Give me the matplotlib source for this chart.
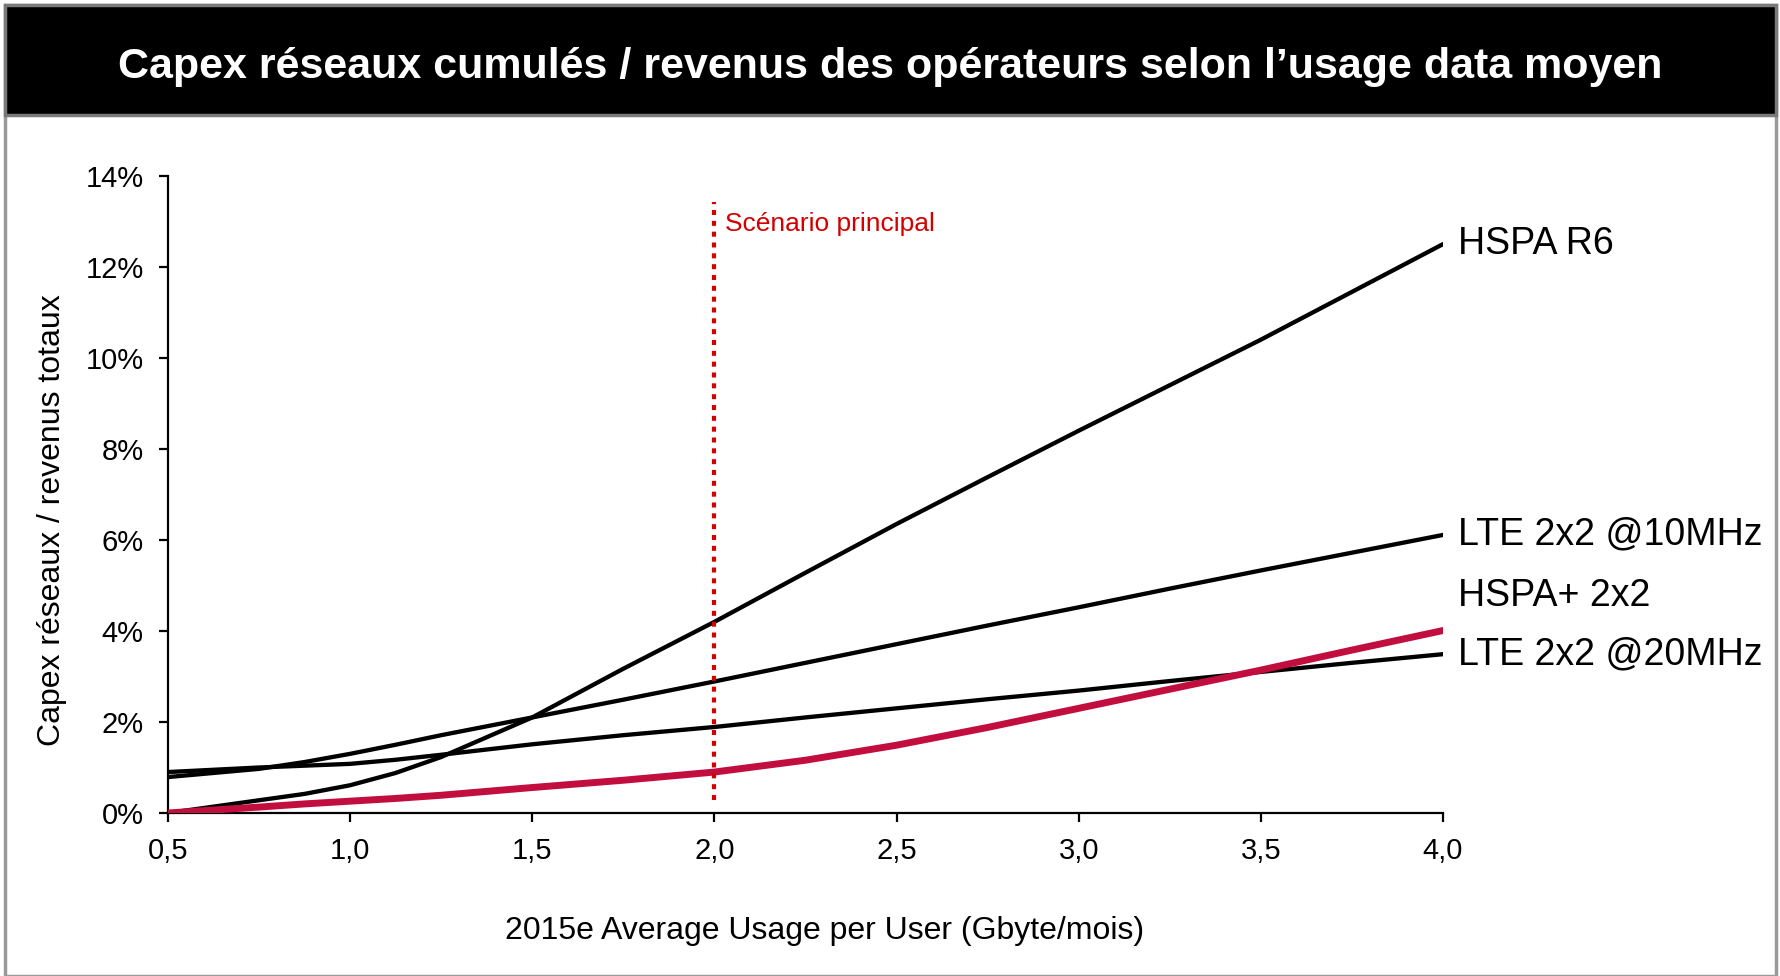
import matplotlib.pyplot as plt
from matplotlib.patches import Rectangle
from matplotlib.ticker import FixedLocator, FuncFormatter

plt.rcParams['font.family'] = ['Liberation Sans', 'DejaVu Sans']

# usage per user (Gbyte/mois) and capex / revenus (%)
usage = [0.5, 0.75, 0.875, 1.0, 1.125, 1.25, 1.5, 1.75, 2.0, 2.25, 2.5, 2.75, 3.0, 3.25, 3.5, 3.75, 4.0]
hspa_r6 = [0.0, 0.28, 0.42, 0.61, 0.88, 1.23, 2.1, 3.17, 4.2, 5.28, 6.35, 7.38, 8.4, 9.4, 10.4, 11.45, 12.5]
lte_10 = [0.79, 0.97, 1.12, 1.3, 1.5, 1.71, 2.1, 2.49, 2.89, 3.3, 3.71, 4.12, 4.52, 4.93, 5.33, 5.72, 6.11]
lte_20 = [0.9, 1.0, 1.04, 1.08, 1.17, 1.28, 1.51, 1.71, 1.89, 2.1, 2.3, 2.5, 2.69, 2.9, 3.1, 3.3, 3.49]
hspa_plus = [0.0, 0.13, 0.2, 0.26, 0.32, 0.39, 0.56, 0.72, 0.9, 1.16, 1.49, 1.88, 2.3, 2.72, 3.14, 3.58, 4.01]

series = [
    ("HSPA R6", hspa_r6, "black", 3.1, 0),
    ("LTE 2x2 @10MHz", lte_10, "black", 3.1, 0),
    ("LTE 2x2 @20MHz", lte_20, "black", 3.1, 0),
    ("HSPA+ 2x2", hspa_plus, "#C20E3F", 5.0, 25),
]

scenario_x = 2.0
scenario_span = (0.29, 13.43)

x_ticks = [0.5, 1.0, 1.5, 2.0, 2.5, 3.0, 3.5, 4.0]
y_ticks = [0, 2, 4, 6, 8, 10, 12, 14]

fig = plt.figure(figsize=(17.81, 9.76), dpi=100, facecolor="white")

# slide frame and black title bar
fig.patches.append(Rectangle((0.003, 0.0), 0.994, 0.995, transform=fig.transFigure,
                             facecolor="none", edgecolor="#9a9a9a", linewidth=2.5, zorder=5))
fig.patches.append(Rectangle((0.003, 0.882), 0.994, 0.113, transform=fig.transFigure,
                             facecolor="black", edgecolor="#7a7a7a", linewidth=2.5, zorder=5))
fig.text(0.5, 0.931, "Capex réseaux cumulés / revenus des opérateurs selon l\u2019usage data moyen",
         color="white", fontsize=31, fontweight="bold", ha="center", va="center", zorder=6)

ax = fig.add_axes([0.0943, 0.167, 0.7159, 0.6528])
ax.set_facecolor("none")

for name, values, color, lw, dy in series:
    ax.plot(usage, values, color=color, linewidth=lw, solid_capstyle="round", zorder=3)
    ax.annotate(name, xy=(usage[-1], values[-1]), xytext=(11, dy), textcoords="offset points",
                fontsize=27, va="center", ha="left", annotation_clip=False)

ax.plot([scenario_x, scenario_x], scenario_span, color="#D40000", linewidth=3.0,
        dashes=(1.2, 1.4), zorder=4)
ax.text(scenario_x + 0.03, 12.95, "Scénario principal", color="#D40000", fontsize=19,
        ha="left", va="center")

ax.set_xlim(0.5, 4.0)
ax.set_ylim(0, 14)
ax.xaxis.set_major_locator(FixedLocator(x_ticks))
ax.yaxis.set_major_locator(FixedLocator(y_ticks))
ax.xaxis.set_major_formatter(FuncFormatter(lambda v, p: f"{v:.1f}".replace(".", ",")))
ax.yaxis.set_major_formatter(FuncFormatter(lambda v, p: f"{v:.0f}%"))
ax.tick_params(axis="both", direction="out", length=6.5, width=1.6, labelsize=21, colors="black")
ax.tick_params(axis="x", pad=11)
ax.tick_params(axis="y", pad=11)

for side in ["top", "right"]:
    ax.spines[side].set_visible(False)
for side in ["left", "bottom"]:
    ax.spines[side].set_linewidth(1.6)

ax.set_xlabel("2015e Average Usage per User (Gbyte/mois)", fontsize=23)
ax.set_ylabel("Capex réseaux / revenus totaux", fontsize=23)
ax.xaxis.set_label_coords(0.515, -0.162)
ax.yaxis.set_label_coords(-0.079, 0.459)

fig.savefig("out.png", dpi=100)
